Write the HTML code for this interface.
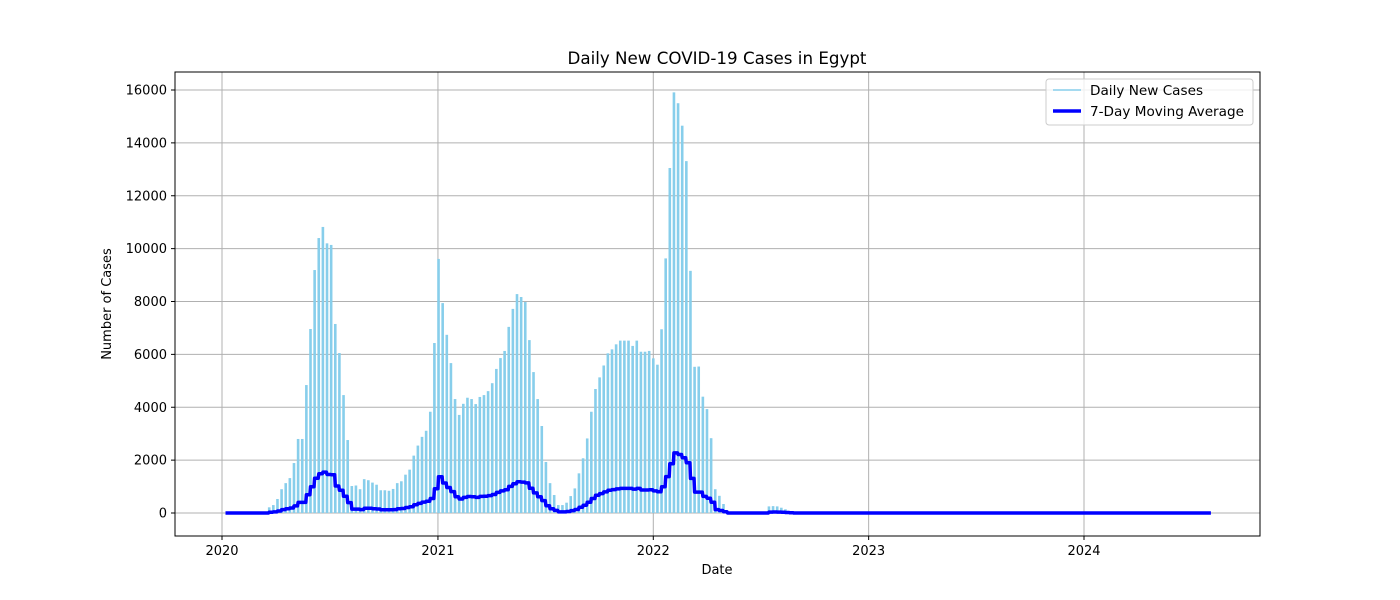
<!DOCTYPE html>
<html><head><meta charset="utf-8"><style>
body{margin:0;background:#fff;}
svg{display:block;font-family:"DejaVu Sans","Liberation Sans",sans-serif;}
</style></head><body>
<svg id="chart" width="1400" height="600"></svg>
<script>
const weekValues = [0,0,0,0,0,0,0,0,0,0,
215,300,530,900,1130,1320,1890,2800,2800,4840,6960,9190,10400,10820,10200,10140,7150,6050,4460,2760,
1020,1040,900,1280,1240,1150,1070,860,860,840,910,1130,1200,1450,1640,2170,2550,2880,3110,3830,
6430,9610,7940,6740,5670,4310,3710,4130,4360,
4310,4120,4390,4460,4610,4910,5450,5860,6130,7040,7720,8280,8170,7980,6540,5330,4310,3290,1930,1130,
680,300,300,390,640,930,1500,2070,2820,3830,4690,5130,5580,6040,6190,6380,6520,6520,6520,6320,
6520,6100,6100,6130,5850,5610,6950,9630,
13050,15910,15500,14650,13310,9160,5530,5540,4400,3930,2830,900,650,340,
0,0,0,0,0,0,0,0,0,0,
250,260,250,200,140,70];
const totalWeeks = 239;
const firstDay = 10; // days after 2020-01-01
const yTicks = [0,2000,4000,6000,8000,10000,12000,14000,16000];
const xTickLabels = ["2020","2021","2022","2023","2024"];
const xTickDays = [0,366,731,1096,1461];

const NS="http://www.w3.org/2000/svg";
const svg=document.getElementById('chart');
const L=175,R=1260,T=72,B=536;
const xs=d=>222+d*(1084-222)/1461;
const ys=v=>513-v*(513-90)/16000;
function mk(tag,attrs,parent){const e=document.createElementNS(NS,tag);for(const k in attrs)e.setAttribute(k,attrs[k]);(parent||svg).appendChild(e);return e;}

mk('rect',{x:L,y:T,width:R-L,height:B-T,fill:'#fff'});
const grid=mk('g',{});


yTicks.forEach(v=>{mk('line',{x1:L,x2:R,y1:ys(v),y2:ys(v),stroke:'#b0b0b0','stroke-width':1},grid);});
xTickDays.forEach(d=>{mk('line',{x1:xs(d),x2:xs(d),y1:T,y2:B,stroke:'#b0b0b0','stroke-width':1},grid);});

const bars=mk('g',{});


for(let k=0;k<totalWeeks;k++){
  const v=weekValues[k]||0;
  const d=firstDay+7*k;
  const b=mk('rect',{x:xs(d)-1.3,y:ys(v),width:2.6,height:Math.max(0,ys(0)-ys(v)),fill:'#87ceeb'},bars);
  
  
}
let pts=[];
const lastDay=firstDay+7*(totalWeeks-1);
for(let t=6;t<=lastDay;t++){
  let s=0;
  for(let k=0;k<totalWeeks;k++){const d=firstDay+7*k;if(d<=t&&d>t-7)s+=weekValues[k]||0;}
  pts.push(xs(t).toFixed(1)+','+ys(s/7).toFixed(1));
}
const ma=mk('polyline',{points:pts.join(' '),fill:'none',stroke:'#0000ff','stroke-width':3.5,'stroke-linejoin':'round'});



mk('rect',{x:L,y:T,width:R-L,height:B-T,fill:'none',stroke:'#000','stroke-width':1});
yTicks.forEach(v=>{
  mk('line',{x1:L-4,x2:L,y1:ys(v),y2:ys(v),stroke:'#000'});
  const t=mk('text',{x:L-8,y:ys(v)+4.5,'text-anchor':'end','font-size':13});t.textContent=v;
  
  
});
xTickDays.forEach((d,i)=>{
  mk('line',{x1:xs(d),x2:xs(d),y1:B,y2:B+4,stroke:'#000'});
  const t=mk('text',{x:xs(d),y:B+19,'text-anchor':'middle','font-size':13});t.textContent=xTickLabels[i];
  
  
});
let t=mk('text',{x:717,y:64,'text-anchor':'middle','font-size':16.7});t.textContent='Daily New COVID-19 Cases in Egypt';


t=mk('text',{x:717,y:574,'text-anchor':'middle','font-size':13});t.textContent='Date';


t=mk('text',{x:0,y:0,'text-anchor':'middle','font-size':13,transform:'translate(111,304) rotate(-90)'});t.textContent='Number of Cases';



const lg=mk('g',{});


mk('rect',{x:1046,y:79,width:207,height:46,rx:3,fill:'#fff','fill-opacity':0.8,stroke:'#ccc'},lg);
mk('line',{x1:1053,x2:1081,y1:90,y2:90,stroke:'#87ceeb','stroke-width':1.5},lg);
t=mk('text',{x:1090,y:95,'font-size':13.6},lg);t.textContent='Daily New Cases';


mk('line',{x1:1053,x2:1081,y1:111,y2:111,stroke:'#0000ff','stroke-width':3.5},lg);
t=mk('text',{x:1090,y:116,'font-size':13.6},lg);t.textContent='7-Day Moving Average';


</script>
</body></html>
